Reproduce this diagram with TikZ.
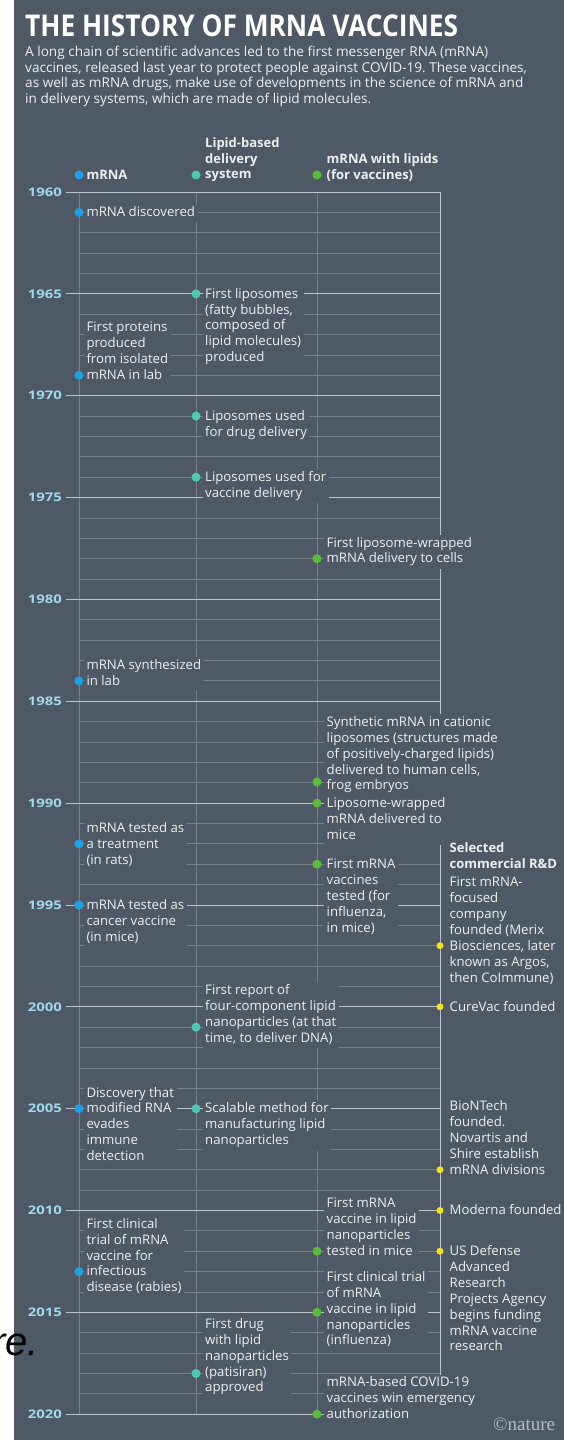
\documentclass[tikz,border=0pt]{standalone}
\usepackage{fontspec}
\usepackage{graphicx}
\setmainfont{Open Sans}
\newfontfamily\libsans{Liberation Sans}
\newfontfamily\libserif{Liberation Serif}
\frenchspacing
\definecolor{bg}{HTML}{4F5966}
\definecolor{txt}{HTML}{ECEFF2}
\definecolor{yearc}{HTML}{9FD8EA}
\definecolor{majl}{HTML}{BCC3CB}
\definecolor{minl}{HTML}{76808C}
\definecolor{natc}{HTML}{B4BBC3}
\definecolor{cm}{HTML}{1EA0E6}
\definecolor{cl}{HTML}{4CC9B0}
\definecolor{cg}{HTML}{5DBB3A}
\definecolor{cy}{HTML}{F2E21C}
\newcommand\evtxt[1]{\begin{tabular}[t]{@{}l@{}}#1\end{tabular}}
\tikzset{
  ev/.style={anchor=base west, fill=bg, inner xsep=2.5pt, inner ysep=1pt, text=txt,
    font=\fontsize{13.2}{15.9}\selectfont},
  hd/.style={anchor=base west, inner xsep=2.5pt, inner ysep=1pt, text=txt,
    font=\bfseries\fontsize{13}{15.5}\selectfont},
  yearlab/.style={anchor=east, inner sep=0pt, text=yearc},
  dotbase/.style={circle, inner sep=0pt, minimum size=9pt},
  dm/.style={dotbase, fill=cm},
  dl/.style={dotbase, fill=cl},
  dg/.style={dotbase, fill=cg},
  dy/.style={dotbase, fill=cy, minimum size=7pt},
  majorline/.style={draw=majl, line width=0.9pt},
  minorline/.style={draw=minl, line width=0.8pt},
}
\begin{document}
\begin{tikzpicture}[x=1pt, y=-1pt, declare function={yy(\t)=192+(\t-1960)*20.37;}]
\useasboundingbox (0,0) rectangle (564,1440);
\fill[white] (0,0) rectangle (564,1440);
\fill[bg] (14,0) rectangle (564,1440);

% title and intro
\node[anchor=base west, inner sep=0pt, text=white] (title) at (25,36.7)
  {\resizebox{433pt}{21.7pt}{\bfseries THE HISTORY OF MRNA VACCINES}};
\node[anchor=base west, inner sep=0pt, text=txt, font=\fontsize{13.6}{15.5}\selectfont] (intro) at (25,56.5)
  {\evtxt{A long chain of scientific advances led to the first messenger RNA (mRNA)\\
  vaccines, released last year to protect people against COVID-19. These vaccines,\\
  as well as mRNA drugs, make use of developments in the science of mRNA and\\
  in delivery systems, which are made of lipid molecules.}};

% grid
\foreach \y in {1961,...,2019}{
  \pgfmathtruncatemacro\r{mod(\y,5)}
  \ifnum\r>0 \draw[minorline] (79,{yy(\y)}) -- (440,{yy(\y)}); \fi
}
\draw[minorline] (79,{yy(1960)}) -- (79,{yy(2020)});
\draw[minorline] (196,{yy(1960)}) -- (196,{yy(2020)});
\draw[minorline] (317,{yy(1960)}) -- (317,{yy(2020)});
\foreach \y in {1960,1965,...,2020}{
  \draw[majorline] (66,{yy(\y)}) -- (440,{yy(\y)});
  \node[yearlab] (y\y) at (62,{yy(\y)}) {\resizebox{34pt}{8.6pt}{\bfseries \y}};
}
\draw[majorline] (440,{yy(1960)}) -- (440,{yy(2020)});

% legend headers
\node[hd] (hm) at (83.8,179.3) {\evtxt{mRNA}};
\node[hd] (hl) at (202.5,147.8) {\evtxt{Lipid-based\\delivery\\system}};
\node[hd] (hg) at (324,163.5) {\evtxt{mRNA with lipids\\(for vaccines)}};
\node[dm] (km) at (79,175) {};
\node[dl] (kl) at (196,175) {};
\node[dg] (kg) at (317,175) {};

% mRNA events
\node[ev] (tm1) at (83.8,{yy(1961)+4.3}) {\evtxt{mRNA discovered}};
\node[ev] (tm2) at (83.8,{yy(1969)-3*15.9+4.3}) {\evtxt{First proteins\\produced\\from isolated\\mRNA in lab}};
\node[ev] (tm3) at (83.8,{yy(1984)-15.9+4.3}) {\evtxt{mRNA synthesized\\in lab}};
\node[ev] (tm4) at (83.8,{yy(1992)-15.9+4.3}) {\evtxt{mRNA tested as\\a treatment\\(in rats)}};
\node[ev] (tm5) at (83.8,{yy(1995)+4.3}) {\evtxt{mRNA tested as\\cancer vaccine\\(in mice)}};
\node[ev] (tm6) at (83.8,{yy(2005)-15.9+4.3}) {\evtxt{Discovery that\\modified RNA\\evades\\immune\\detection}};
\node[ev] (tm7) at (83.8,{yy(2013)-3*15.9+4.3}) {\evtxt{First clinical\\trial of mRNA\\vaccine for\\infectious\\disease (rabies)}};

% lipid events
\node[ev] (tl1) at (202.5,{yy(1965)+4.3}) {\evtxt{First liposomes\\(fatty bubbles,\\composed of\\lipid molecules)\\produced}};
\node[ev] (tl2) at (202.5,{yy(1971)+4.3}) {\evtxt{Liposomes used\\for drug delivery}};
\node[ev] (tl3) at (202.5,{yy(1974)+4.3}) {\evtxt{Liposomes used for\\vaccine delivery}};
\node[ev] (tl4) at (202.5,994.8) {\evtxt{First report of\\four-component lipid\\nanoparticles (at that\\time, to deliver DNA)}};
\node[ev] (tl5) at (202.5,{yy(2005)+4.3}) {\evtxt{Scalable method for\\manufacturing lipid\\nanoparticles}};
\node[ev] (tl6) at (202.5,1328.3) {\evtxt{First drug\\with lipid\\nanoparticles\\(patisiran)\\approved}};

% mRNA with lipids events
\node[ev] (tg1) at (324,{yy(1978)-15.9+4.3}) {\evtxt{First liposome-wrapped\\mRNA delivery to cells}};
\node[ev] (tg2) at (324,726.3) {\evtxt{Synthetic mRNA in cationic\\liposomes (structures made\\of positively-charged lipids)\\delivered to human cells,\\frog embryos}};
\node[ev] (tg3) at (324,{yy(1990)+4.3}) {\evtxt{Liposome-wrapped\\mRNA delivered to\\mice}};
\node[ev] (tg4) at (324,{yy(1993)+4.3}) {\evtxt{First mRNA\\vaccines\\tested (for\\influenza,\\in mice)}};
\node[ev] (tg5) at (324,{yy(2012)-3*15.9+4.3}) {\evtxt{First mRNA\\vaccine in lipid\\nanoparticles\\tested in mice}};
\node[ev] (tg6) at (324,1281.3) {\evtxt{First clinical trial\\of mRNA\\vaccine in lipid\\nanoparticles\\(influenza)}};
\node[ev] (tg7) at (324,{yy(2020)-2*15.9+4.3}) {\evtxt{mRNA-based COVID-19\\vaccines win emergency\\authorization}};

% commercial R&D
\node[hd] (hc) at (447,852.6) {\evtxt{Selected\\commercial R\&D}};
\node[ev] (tc1) at (447,886.8) {\evtxt{First mRNA-\\focused\\company\\founded (Merix\\Biosciences, later\\known as Argos,\\then CoImmune)}};
\node[ev] (tc2) at (447,{yy(2000)+4.3}) {\evtxt{CureVac founded}};
\node[ev] (tc3) at (447,{yy(2008)-4*15.9+4.3}) {\evtxt{BioNTech\\founded.\\Novartis and\\Shire establish\\mRNA divisions}};
\node[ev] (tc4) at (447,{yy(2010)+4.3}) {\evtxt{Moderna founded}};
\node[ev] (tc5) at (447,{yy(2012)+4.3}) {\evtxt{US Defense\\Advanced\\Research\\Projects Agency\\begins funding\\mRNA vaccine\\research}};

% dots
\node[dm] (m1) at (79,{yy(1961)}) {};
\node[dm] (m2) at (79,{yy(1969)}) {};
\node[dm] (m3) at (79,{yy(1984)}) {};
\node[dm] (m4) at (79,{yy(1992)}) {};
\node[dm] (m5) at (79,{yy(1995)}) {};
\node[dm] (m6) at (79,{yy(2005)}) {};
\node[dm] (m7) at (79,{yy(2013)}) {};
\node[dl] (l1) at (196,{yy(1965)}) {};
\node[dl] (l2) at (196,{yy(1971)}) {};
\node[dl] (l3) at (196,{yy(1974)}) {};
\node[dl] (l4) at (196,{yy(2001)}) {};
\node[dl] (l5) at (196,{yy(2005)}) {};
\node[dl] (l6) at (196,{yy(2018)}) {};
\node[dg] (g1) at (317,{yy(1978)}) {};
\node[dg] (g2) at (317,782) {};
\node[dg] (g3) at (317,{yy(1990)}) {};
\node[dg] (g4) at (317,{yy(1993)}) {};
\node[dg] (g5) at (317,{yy(2012)}) {};
\node[dg] (g6) at (317,{yy(2015)}) {};
\node[dg] (g7) at (317,{yy(2020)}) {};
\node[dy] (c1) at (440,{yy(1997)}) {};
\node[dy] (c2) at (440,{yy(2000)}) {};
\node[dy] (c3) at (440,{yy(2008)}) {};
\node[dy] (c4) at (440,{yy(2010)}) {};
\node[dy] (c5) at (440,{yy(2012)}) {};

% credit and stray text
\node[anchor=base west, inner sep=0pt, text=natc, font=\libserif\fontsize{19}{19}\selectfont] (nat) at (493,1430) {\textcopyright nature};
\node[anchor=base east, inner sep=0pt, text=black, font=\libsans\itshape\fontsize{40}{40}\selectfont] (re) at (39,1355) {re.};
\end{tikzpicture}
\end{document}
